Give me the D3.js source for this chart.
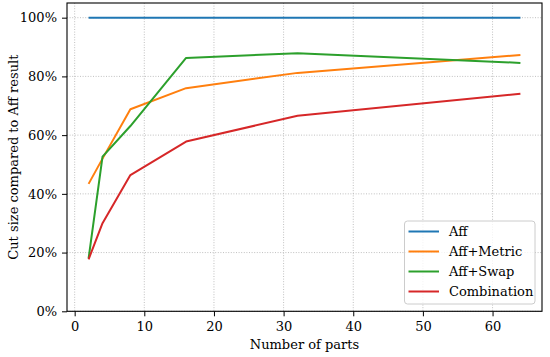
<!DOCTYPE html>
<html><head><meta charset="utf-8">
<script src="https://cdn.jsdelivr.net/npm/d3@7"></script>
<style>body{margin:0;background:#fff}svg{display:block}text{font-family:"DejaVu Serif",serif;fill:#000}</style>
</head><body><svg id="c" width="550" height="357"></svg>
<script>
const parts = [2, 4, 8, 16, 32, 64];
const aff = [1.0, 1.0, 1.0, 1.0, 1.0, 1.0];
const affMetric = [0.434, 0.52, 0.688, 0.76, 0.812, 0.873];
const affSwap = [0.18, 0.527, 0.631, 0.863, 0.879, 0.846];
const combination = [0.177, 0.30, 0.464, 0.578, 0.666, 0.741];
const seriesNames = ["Aff", "Aff+Metric", "Aff+Swap", "Combination"];
const seriesColors = ["#1f77b4", "#ff7f0e", "#2ca02c", "#d62728"];
const xTicks = [0, 10, 20, 30, 40, 50, 60];
const yTicks = [0, 0.2, 0.4, 0.6, 0.8, 1.0];

const series = [aff, affMetric, affSwap, combination];
const svg = d3.select("#c");
const L = 67, R = 542, T = 3, B = 311.3;
const FS = 13;
const x = d3.scaleLinear().domain([-1.1, 67.1]).range([L, R]);
const y = d3.scaleLinear().domain([0, 1.05]).range([B, T]);

// grid
const g = svg.append("g");
g.selectAll(".gx").data(xTicks).join("line")
  .attr("x1", d => x(d)).attr("x2", d => x(d)).attr("y1", T).attr("y2", B)
  .attr("stroke", "#b0b0b0").attr("stroke-width", 0.8).attr("stroke-dasharray", "1,1.6");
g.selectAll(".gy").data(yTicks).join("line")
  .attr("y1", d => y(d)).attr("y2", d => y(d)).attr("x1", L).attr("x2", R)
  .attr("stroke", "#b0b0b0").attr("stroke-width", 0.8).attr("stroke-dasharray", "1,1.6");

// lines
const line = d3.line().x((d, i) => x(parts[i])).y(d => y(d));
series.forEach((s, k) => {
  svg.append("path").datum(s).attr("d", line).attr("fill", "none")
    .attr("stroke", seriesColors[k]).attr("stroke-width", 2).attr("stroke-linejoin", "round");
});

// axes
const xa = svg.append("g").attr("transform", `translate(0,${B})`)
  .call(d3.axisBottom(x).tickValues(xTicks).tickSize(5).tickPadding(5).tickFormat(d3.format("d")));
const ya = svg.append("g").attr("transform", `translate(${L},0)`)
  .call(d3.axisLeft(y).tickValues(yTicks).tickSize(5).tickPadding(5).tickFormat(d => Math.round(d * 100) + "%"));
[xa, ya].forEach(a => {
  a.attr("font-family", null);
  a.select(".domain").remove();
  a.selectAll("line").attr("stroke", "#000").attr("stroke-width", 1);
  a.selectAll("text").attr("font-size", FS);
});
svg.append("rect").attr("x", L).attr("y", T).attr("width", R - L).attr("height", B - T)
  .attr("fill", "none").attr("stroke", "#000").attr("stroke-width", 1.1);

svg.append("text").attr("x", (L + R) / 2).attr("y", 349).attr("text-anchor", "middle")
  .attr("font-size", FS).text("Number of parts");
svg.append("text").attr("transform", `translate(18,${(T + B) / 2}) rotate(-90)`)
  .attr("text-anchor", "middle").attr("font-size", FS).text("Cut size compared to Aff result");

// legend
const lg = svg.append("g");
lg.append("rect").attr("x", 404.5).attr("y", 221).attr("width", 130.5).attr("height", 83).attr("rx", 3)
  .attr("fill", "#fff").attr("fill-opacity", 0.8).attr("stroke", "#cccccc").attr("stroke-width", 1);
seriesNames.forEach((n, k) => {
  const yy = 231.5 + k * 20;
  lg.append("line").attr("x1", 408.5).attr("x2", 439).attr("y1", yy).attr("y2", yy)
    .attr("stroke", seriesColors[k]).attr("stroke-width", 2);
  lg.append("text").attr("x", 449).attr("y", yy + 4.5).attr("font-size", FS).text(n);
});
</script></body></html>
